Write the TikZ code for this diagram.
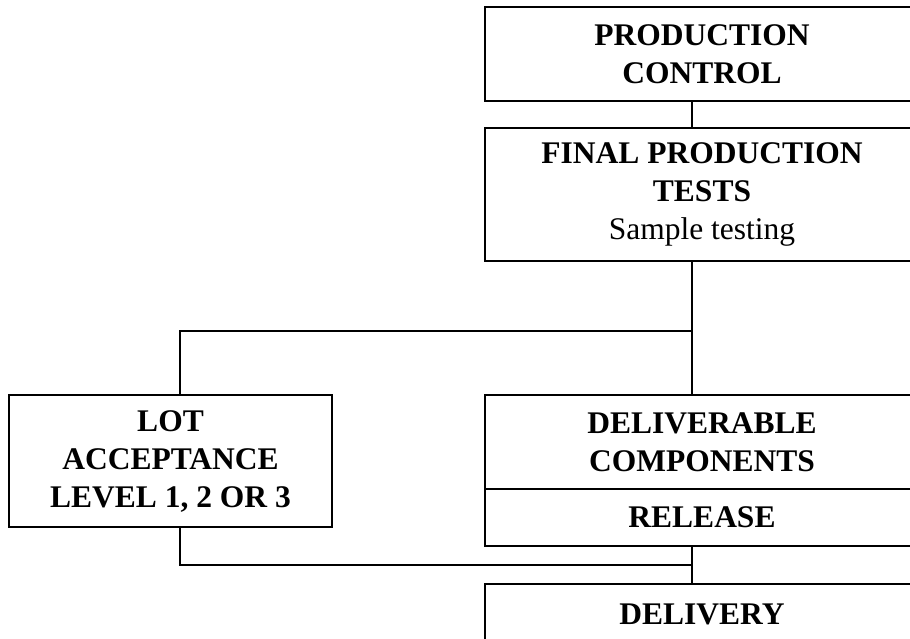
\documentclass[tikz,border=0pt]{standalone}
\usepackage{fontspec}
\setmainfont{Liberation Serif}
\usepackage{tikz}
\usetikzlibrary{positioning, calc}

\tikzset{
    box/.style={draw, line width=1.5pt, rectangle, align=center, inner sep=0pt,
        font=\fontsize{31.5}{38}\selectfont\bfseries},
    link/.style={line width=1.5pt}
}

\begin{document}
\begin{tikzpicture}[x=1pt, y=-1pt]
    \useasboundingbox (0,0) rectangle (910,638);
    \clip (0,0) rectangle (910,638);

    % right column
    \node[box, minimum width=434, minimum height=94] (prodctrl) at (702,54)
        {PRODUCTION\\CONTROL};
    \node[box, minimum width=434, minimum height=133] (finaltests) at (702,194.5)
        {FINAL PRODUCTION\\TESTS\\{\mdseries Sample testing}};
    \node[box, minimum width=434, minimum height=94] (delcomp) at (702,442)
        {DELIVERABLE\\COMPONENTS};
    \node[box, minimum width=434, minimum height=57] (release) at (702,517.5)
        {RELEASE};
    \node[box, minimum width=434, minimum height=60] (delivery) at (702,614)
        {DELIVERY};

    % left branch
    \node[box, minimum width=323, minimum height=132] (lotacc) at (170.5,461)
        {LOT\\ACCEPTANCE\\LEVEL 1, 2 OR 3};

    \coordinate (spine) at (692,0);
    \coordinate (lotx) at (180,0);
    \coordinate (split) at (692,331);
    \coordinate (join) at (692,565);

    \draw[link] (prodctrl.south -| spine) -- (finaltests.north -| spine);
    \draw[link] (finaltests.south -| spine) -- (delcomp.north -| spine);
    \draw[link] (lotacc.north -| lotx) |- (split);
    \draw[link] (lotacc.south -| lotx) |- (join);
    \draw[link] (release.south -| spine) -- (delivery.north -| spine);
\end{tikzpicture}
\end{document}
